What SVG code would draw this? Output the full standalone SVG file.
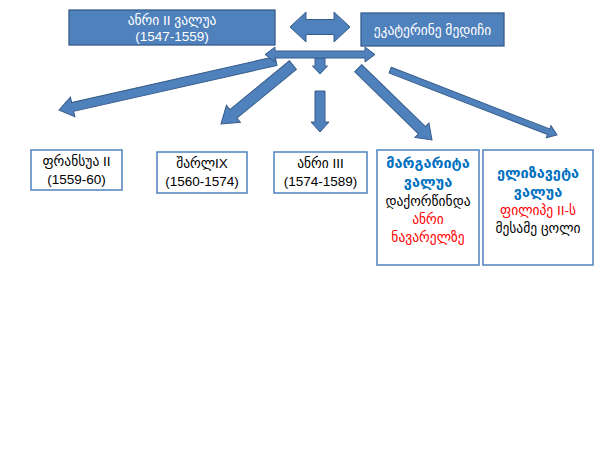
<svg xmlns="http://www.w3.org/2000/svg" width="600" height="450" viewBox="0 0 600 450">
<style>
text{font-family:"Liberation Sans","DejaVu Sans",sans-serif;font-size:13.5px;text-anchor:middle}
.top rect{fill:#4F81BD;stroke:#385D8A;stroke-width:1.3}
.top text{fill:#fff}
.box rect{fill:#fff;stroke:#4F81BD;stroke-width:1.5}
.box text{fill:#000}
.b{fill:#0070C0 !important;font-weight:bold;font-size:14.5px}
.r{fill:#FF0000 !important}
.arr{fill:#4F81BD;stroke:#385D8A;stroke-width:1}
</style>
<rect width="600" height="450" fill="#fff"/>
<g id="connectors">
<polygon class="arr" points="290,27 306,12 306,19.5 334,19.5 334,12 350,27 334,42 334,34.5 306,34.5 306,42"/>
<polygon class="arr" transform="translate(59,110) rotate(167.28)" points="-222.5,-4.5 -14,-4.5 -14,-10 0,0 -14,10 -14,4.5 -222.5,4.5"/>
<polygon class="arr" transform="translate(221,124) rotate(140.67)" points="-93,-5.5 -16,-5.5 -16,-11 0,0 -16,11 -16,5.5 -93,5.5"/>
<polygon class="arr" transform="translate(320,74) rotate(90)" points="-16,-5 -8,-5 -8,-7.5 0,0 -8,7.5 -8,5 -16,5"/>
<polygon class="arr" transform="translate(320,132) rotate(90)" points="-41,-5 -10,-5 -10,-9 0,0 -10,9 -10,5 -41,5"/>
<polygon class="arr" transform="translate(432,140) rotate(44.22)" points="-103,-5 -14,-5 -14,-10 0,0 -14,10 -14,5 -103,5"/>
<polygon class="arr" transform="translate(557,135) rotate(21.27)" points="-179,-3 -9,-3 -9,-6.5 0,0 -9,6.5 -9,3 -179,3"/>
<polygon class="arr" points="265,54.5 275,47 275,51 365,51 365,47 375,54.5 365,62 365,58 275,58 275,62"/>
</g>
<g id="henri2" class="top">
<rect x="69" y="10" width="206" height="35"/>
<text x="172" y="25">ანრი II ვალუა</text>
<text x="172" y="41">(1547-1559)</text>
</g>
<g id="catherine" class="top">
<rect x="361" y="13" width="143" height="33"/>
<text x="432.5" y="35">ეკატერინე მედიჩი</text>
</g>
<g id="francis2" class="box">
<rect x="31" y="150" width="91" height="40"/>
<text x="76.5" y="166">ფრანსუა II</text>
<text x="76.5" y="184">(1559-60)</text>
</g>
<g id="charles9" class="box">
<rect x="157" y="152" width="90" height="41"/>
<text x="202" y="168">შარლIX</text>
<text x="202" y="186">(1560-1574)</text>
</g>
<g id="henri3" class="box">
<rect x="274" y="152" width="93" height="41"/>
<text x="320.5" y="168">ანრი III</text>
<text x="320.5" y="186">(1574-1589)</text>
</g>
<g id="margaret" class="box">
<rect x="377" y="150" width="102" height="115"/>
<text x="428" y="168" class="b">მარგარიტა</text>
<text x="428" y="187" class="b">ვალუა</text>
<text x="428" y="206">დაქორწინდა</text>
<text x="428" y="224" class="r">ანრი</text>
<text x="428" y="242" class="r">ნავარელზე</text>
</g>
<g id="elisabeth" class="box">
<rect x="483" y="150" width="110" height="115"/>
<text x="538" y="178" class="b">ელიზავეტა</text>
<text x="538" y="197" class="b">ვალუა</text>
<text x="538" y="215" class="r">ფილიპე II-ს</text>
<text x="538" y="233">მესამე ცოლი</text>
</g>
</svg>
